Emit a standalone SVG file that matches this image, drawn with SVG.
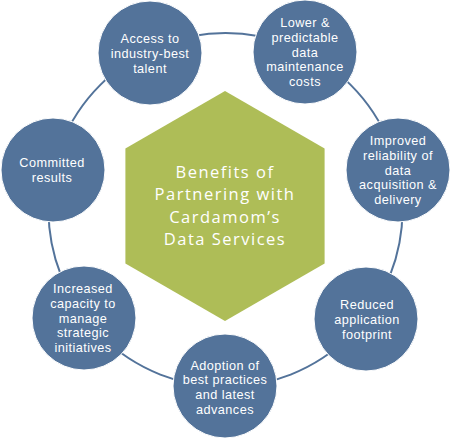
<svg xmlns="http://www.w3.org/2000/svg" width="450" height="438" viewBox="0 0 450 438">
<style>
.node{fill:#53739A;stroke:#ffffff;stroke-width:1}
.ring{fill:none;stroke:#53739A;stroke-width:2}
.hex{fill:#AEBD57}
.t{font-family:"Liberation Sans",Arial,sans-serif;font-size:12.7px;letter-spacing:0.45px;fill:#ffffff;text-anchor:middle}
.h{font-family:"Open Sans","Liberation Sans",sans-serif;font-size:16.5px;letter-spacing:1.5px;fill:#ffffff;text-anchor:middle}
</style>
<rect width="450" height="438" fill="#ffffff"/>
<g id="connectors">
<circle class="ring" cx="225.5" cy="210" r="177"/>
</g>
<g id="center">
<polygon class="hex" points="225,91 324.6,148.5 324.6,263.5 225,321 125.4,263.5 125.4,148.5"/>
<text class="h" x="225" y="177.7">Benefits of</text>
<text class="h" x="225" y="200.2">Partnering with</text>
<text class="h" x="225" y="222.7">Cardamom’s</text>
<text class="h" x="225" y="245.2">Data Services</text>
</g>
<g id="n-access">
<circle class="node" cx="150" cy="53" r="52"/>
<text class="t" x="150" y="42.5">Access to</text>
<text class="t" x="150" y="57.5">industry-best</text>
<text class="t" x="150" y="72.5">talent</text>
</g>
<g id="n-lower">
<circle class="node" cx="305" cy="52" r="52"/>
<text class="t" x="305" y="27.2">Lower &amp;</text>
<text class="t" x="305" y="41.9">predictable</text>
<text class="t" x="305" y="56.6">data</text>
<text class="t" x="305" y="71.3">maintenance</text>
<text class="t" x="305" y="86">costs</text>
</g>
<g id="n-improved">
<circle class="node" cx="398" cy="170" r="52"/>
<text class="t" x="398" y="145.1">Improved</text>
<text class="t" x="398" y="159.8">reliability of</text>
<text class="t" x="398" y="174.5">data</text>
<text class="t" x="398" y="189.2">acquisition &amp;</text>
<text class="t" x="398" y="203.9">delivery</text>
</g>
<g id="n-reduced">
<circle class="node" cx="366" cy="319" r="52"/>
<text class="t" x="367" y="309.2">Reduced</text>
<text class="t" x="367" y="324.2">application</text>
<text class="t" x="367" y="339.2">footprint</text>
</g>
<g id="n-adoption">
<circle class="node" cx="225" cy="386" r="52"/>
<text class="t" x="225" y="369.5">Adoption of</text>
<text class="t" x="225" y="384.1">best practices</text>
<text class="t" x="225" y="398.8">and latest</text>
<text class="t" x="225" y="413.5">advances</text>
</g>
<g id="n-increased">
<circle class="node" cx="84" cy="318" r="52"/>
<text class="t" x="83" y="293.2">Increased</text>
<text class="t" x="83" y="308">capacity to</text>
<text class="t" x="83" y="322.7">manage</text>
<text class="t" x="83" y="337.4">strategic</text>
<text class="t" x="83" y="352.1">initiatives</text>
</g>
<g id="n-committed">
<circle class="node" cx="53" cy="170" r="52"/>
<text class="t" x="52" y="167.2">Committed</text>
<text class="t" x="52" y="181.8">results</text>
</g>
</svg>
